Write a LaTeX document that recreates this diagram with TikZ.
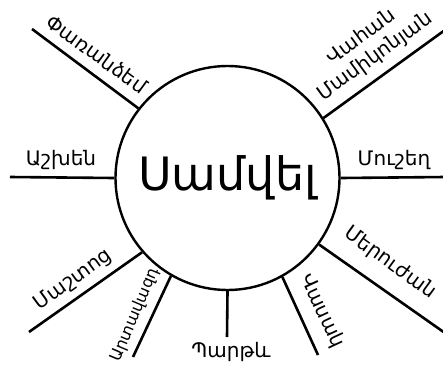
\documentclass[tikz,border=0pt]{standalone}
\usepackage{fontspec}
\setmainfont{DejaVu Sans}
\begin{document}
\begin{tikzpicture}[x=1pt,y=-1pt,
  spoke/.style={line width=2.6pt},
  lbl/.style={font=\fontsize{20}{24}\selectfont, inner sep=0pt, align=center}]
\useasboundingbox[fill=white] (0,0) rectangle (443,364);
\node[draw, line width=2.4pt, circle, minimum size=224pt, inner sep=0pt,
      font=\fontsize{46}{50}\selectfont] (c) at (227.5,178) {Սամվել};
% outer ends
\coordinate (e1) at (32,29);
\coordinate (e2) at (445,30);
\coordinate (e3) at (10,177);
\coordinate (e4) at (445,177);
\coordinate (e5) at (29,332);
\coordinate (e6) at (133,357);
\coordinate (e7) at (227,337);
\coordinate (e8) at (318,355);
\coordinate (e9) at (445,333);
\draw[spoke] (c.142) -- (e1);
\draw[spoke] (c.32) -- (e2);
\draw[spoke] (c.180) -- (e3);
\draw[spoke] (c.0) -- (e4);
\draw[spoke] (c.221) -- (e5);
\draw[spoke] (c.240) -- (e6);
\draw[spoke] (c.270) -- (e7);
\draw[spoke] (c.299) -- (e8);
\draw[spoke] (c.324) -- (e9);
% labels
\node[lbl, rotate=-36] (l1) at (97,54) {Փառանձեմ};
\node[lbl, rotate=36] (l2) at (368,47) {Վահան\\Մամիկոնյան};
\node[lbl] (l3) at (61,160) {Աշխեն};
\node[lbl] (l4) at (394,160) {Մուշեղ};
\node[lbl, rotate=36] (l5) at (73,280) {Մաշտոց};
\node[lbl, rotate=67, font=\fontsize{16}{18}\selectfont] (l6) at (135,315) {Արտավազդ};
\node[lbl] (l7) at (231,352) {Պարթև};
\node[lbl, rotate=-65] (l8) at (322,311) {Վասակ};
\node[lbl, rotate=-36] (l9) at (390,263) {Մերուժան};
\end{tikzpicture}
\end{document}
